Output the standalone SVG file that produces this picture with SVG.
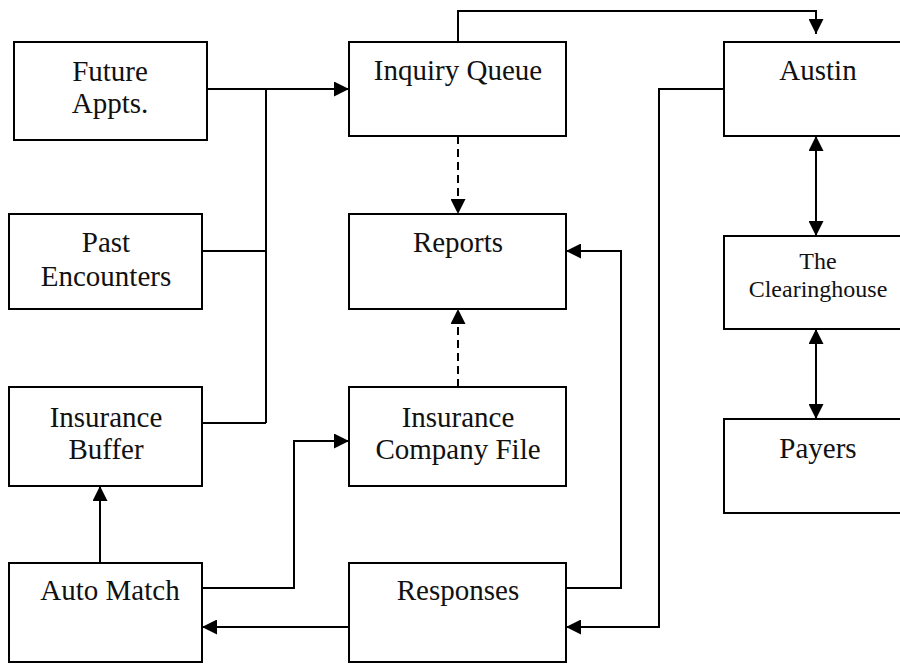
<svg xmlns="http://www.w3.org/2000/svg" width="900" height="664" viewBox="0 0 900 664">
<style>
.box{fill:#fff;stroke:#000;stroke-width:2}
.t{font-family:"Liberation Serif","Times New Roman",serif;font-size:29px;fill:#111;text-anchor:middle}
.ts{font-family:"Liberation Serif","Times New Roman",serif;font-size:24px;fill:#111;text-anchor:middle}
.c{fill:none;stroke:#000;stroke-width:2}
.a{marker-end:url(#ah)}
.d{stroke-dasharray:8 5}
</style>
<defs>
<marker id="ah" markerUnits="userSpaceOnUse" markerWidth="15" markerHeight="15" refX="15" refY="7.5" orient="auto">
<path d="M0,0 L15,7.5 L0,15 z" fill="#000"/>
</marker>
<marker id="as" markerUnits="userSpaceOnUse" markerWidth="15" markerHeight="15" refX="15" refY="7.5" orient="auto-start-reverse">
<path d="M0,0 L15,7.5 L0,15 z" fill="#000"/>
</marker>
</defs>
<rect width="900" height="664" fill="#fff"/>
<g id="future"><rect class="box" x="14" y="42" width="193" height="98"/><text class="t" x="110" y="81">Future</text><text class="t" x="110" y="113">Appts.</text></g>
<g id="inquiry"><rect class="box" x="349" y="42" width="217" height="94"/><text class="t" x="458" y="80">Inquiry  Queue</text></g>
<g id="austin"><rect class="box" x="724" y="42" width="190" height="94"/><text class="t" x="818" y="80">Austin</text></g>
<g id="past"><rect class="box" x="9" y="214" width="193" height="95"/><text class="t" x="106" y="252">Past</text><text class="t" x="106" y="286">Encounters</text></g>
<g id="reports"><rect class="box" x="349" y="214" width="217" height="95"/><text class="t" x="458" y="252">Reports</text></g>
<g id="clearinghouse"><rect class="box" x="724" y="236" width="190" height="93"/><text class="ts" x="818" y="269">The</text><text class="ts" x="818" y="297">Clearinghouse</text></g>
<g id="buffer"><rect class="box" x="9" y="387" width="193" height="99"/><text class="t" x="106" y="427">Insurance</text><text class="t" x="106" y="459">Buffer</text></g>
<g id="icf"><rect class="box" x="349" y="387" width="217" height="99"/><text class="t" x="458" y="427">Insurance</text><text class="t" x="458" y="459">Company File</text></g>
<g id="payers"><rect class="box" x="724" y="419" width="190" height="94"/><text class="t" x="818" y="458">Payers</text></g>
<g id="automatch"><rect class="box" x="9" y="563" width="193" height="99"/><text class="t" x="110" y="600">Auto Match</text></g>
<g id="responses"><rect class="box" x="349" y="563" width="217" height="99"/><text class="t" x="458" y="600">Responses</text></g>
<g id="connectors">
<path class="c a" d="M207,89 H349"/>
<path class="c" d="M202,251 H266 M202,423 H266 M266,89 V423"/>
<path class="c a" d="M458,42 V11 H816 V34"/>
<path class="c a d" d="M458,136 V214"/>
<path class="c a d" d="M458,387 V309"/>
<path class="c a" d="M100,563 V486"/>
<path class="c a" d="M202,588 H294 V441 H349"/>
<path class="c a" d="M349,627 H202"/>
<path class="c a" d="M566,588 H621 V251 H566"/>
<path class="c a" d="M724,89 H659 V627 H566"/>
<path class="c a" d="M816,136 V236" marker-start="url(#as)"/>
<path class="c a" d="M816,329 V419" marker-start="url(#as)"/>
</g>
</svg>
